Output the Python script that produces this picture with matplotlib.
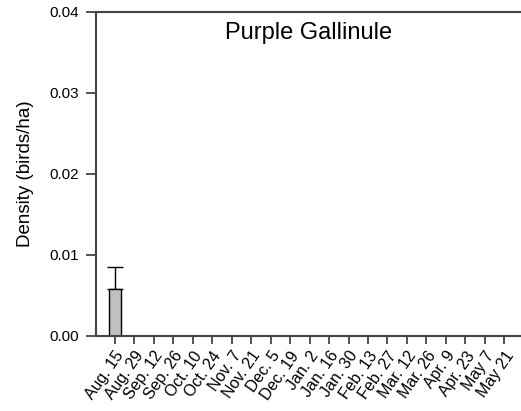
import matplotlib
matplotlib.use('Agg')
import matplotlib.pyplot as plt
import numpy as np

plt.rcParams['font.family'] = ['Liberation Sans', 'DejaVu Sans']

dates = ['Aug. 15', 'Aug. 29', 'Sep. 12', 'Sep. 26', 'Oct. 10', 'Oct. 24',
         'Nov. 7', 'Nov. 21', 'Dec. 5', 'Dec. 19', 'Jan. 2', 'Jan. 16',
         'Jan. 30', 'Feb. 13', 'Feb. 27', 'Mar. 12', 'Mar. 26', 'Apr. 9',
         'Apr. 23', 'May 7', 'May 21']
density = [0.00575] + [0.0] * 20
err = [0.0027] + [0.0] * 20

fig = plt.figure(figsize=(5.21, 4.11), dpi=100)
ax = fig.add_axes([0.184, 0.1825, 0.814, 0.789])

x = np.arange(len(dates))
shown = [i for i in x if density[i] > 0]
ax.bar([x[i] for i in shown], [density[i] for i in shown], width=0.62,
       color='#c0c0c0', edgecolor='black', linewidth=1.0, zorder=2)
ax.errorbar([x[i] for i in shown], [density[i] for i in shown],
            yerr=[[0] * len(shown), [err[i] for i in shown]],
            fmt='none', ecolor='black', elinewidth=1.0, capsize=6,
            capthick=1.0, zorder=1)

ax.set_xlim(-0.97, 20.8)
ax.set_ylim(0, 0.04)
ax.set_yticks([0.0, 0.01, 0.02, 0.03, 0.04])
ax.set_yticklabels(['0.00', '0.01', '0.02', '0.03', '0.04'])
ax.set_xticks(x)
ax.set_xticklabels(dates, rotation=55, ha='right', rotation_mode='anchor',
                   fontsize=11.5)

for s in ['left', 'bottom', 'top']:
    ax.spines[s].set_color('#444444')
    ax.spines[s].set_linewidth(1.5)
ax.spines['right'].set_visible(False)
ax.tick_params(axis='both', direction='out', length=7, width=1.3,
               color='#444444', labelcolor='black')
ax.tick_params(axis='y', labelsize=11, pad=5.5)
ax.tick_params(axis='x', length=6, pad=3)

ax.set_ylabel('Density (birds/ha)', fontsize=13.5, labelpad=11)
ax.text(0.502, 0.935, 'Purple Gallinule', transform=ax.transAxes,
        ha='center', va='center', fontsize=17)

plt.savefig('out.png', dpi=100)
